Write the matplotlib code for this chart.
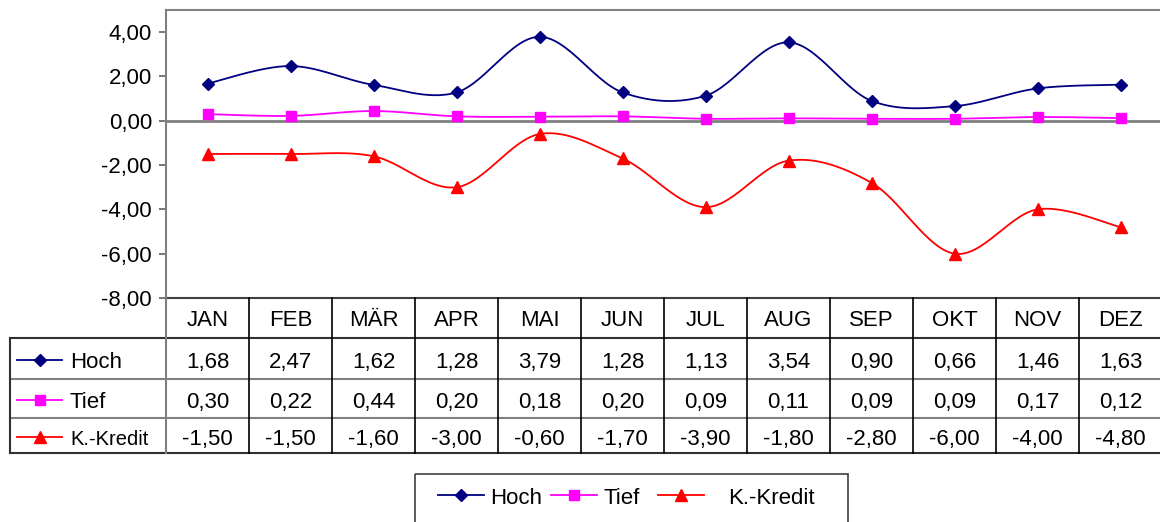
import numpy as np
import matplotlib
matplotlib.use('Agg')
import matplotlib.pyplot as plt
from matplotlib.patches import Rectangle

plt.rcParams['font.family'] = ['Liberation Sans', 'DejaVu Sans']

months = ['JAN', 'FEB', 'MÄR', 'APR', 'MAI', 'JUN', 'JUL', 'AUG', 'SEP', 'OKT', 'NOV', 'DEZ']
hoch = [1.68, 2.47, 1.62, 1.28, 3.79, 1.28, 1.13, 3.54, 0.90, 0.66, 1.46, 1.63]
tief = [0.30, 0.22, 0.44, 0.20, 0.18, 0.20, 0.09, 0.11, 0.09, 0.09, 0.17, 0.12]
kredit = [-1.50, -1.50, -1.60, -3.00, -0.60, -1.70, -3.90, -1.80, -2.80, -6.00, -4.00, -4.80]
series_names = ['Hoch', 'Tief', 'K.-Kredit']
y_ticks = [-8, -6, -4, -2, 0, 2, 4]

colors = ['#000080', '#FF00FF', '#FF0000']
markers = ['D', 's', '^']
msizes = [6.5, 7.5, 9]
series = [hoch, tief, kredit]


def fmt(v):
    return f'{v:.2f}'.replace('.', ',')


def smooth(x, y, n=30):
    P = np.column_stack([x, y]).astype(float)
    Pe = np.vstack([P[0], P, P[-1]])
    out = []
    for i in range(len(P) - 1):
        p0, p1, p2, p3 = Pe[i], Pe[i + 1], Pe[i + 2], Pe[i + 3]
        c1 = p1 + (p2 - p0) / 6
        c2 = p2 - (p3 - p1) / 6
        t = np.linspace(0, 1, n)[:, None]
        seg = (1 - t) ** 3 * p1 + 3 * (1 - t) ** 2 * t * c1 + 3 * (1 - t) * t ** 2 * c2 + t ** 3 * p2
        out.append(seg if i == 0 else seg[1:])
    S = np.vstack(out)
    return S[:, 0], S[:, 1]


W, H = 1160, 522
fig = plt.figure(figsize=(W / 100, H / 100), dpi=100)

# layout (pixels)
L, R, T, B = 166, 1162, 10, 298
colw = (R - L) / len(months)
ax = fig.add_axes([L / W, 1 - B / H, (R - L) / W, (B - T) / H])
ax.set_xlim(-0.5, len(months) - 0.5)
ax.set_ylim(-8, 5)

x = np.arange(len(months))
for vals, c, m, ms in zip(series, colors, markers, msizes):
    sx, sy = smooth(x, vals)
    ax.plot(sx, sy, color=c, lw=1.3, zorder=3, clip_on=False)
    ax.plot(x, vals, ls='none', marker=m, ms=ms, color=c, zorder=4, clip_on=False)

ax.axhline(0, color='#808080', lw=2, zorder=2)
ax.set_yticks(y_ticks)
ax.set_yticklabels([fmt(v) for v in y_ticks], fontsize=16)
ax.set_xticks([])
ax.tick_params(axis='y', direction='out', length=5, width=1.2, color='#606060', pad=5)
for s in ['left', 'top']:
    ax.spines[s].set_color('#808080')
    ax.spines[s].set_linewidth(1.5)
ax.spines['right'].set_visible(False)
ax.spines['bottom'].set_color('#404040')
ax.spines['bottom'].set_linewidth(1.5)

# overlay for the data table and legend
ov = fig.add_axes([0, 0, 1, 1], zorder=5)
ov.set_xlim(0, W)
ov.set_ylim(H, 0)
ov.axis('off')
ov.patch.set_alpha(0)

rows_y = [338, 379, 418, 453]
dark = '#303030'
gray = '#808080'
ov.plot([10, R], [rows_y[0]] * 2, color=dark, lw=1.5)
ov.plot([10, R], [rows_y[1]] * 2, color=gray, lw=1.5)
ov.plot([10, R], [rows_y[2]] * 2, color=gray, lw=1.5)
ov.plot([10, R], [rows_y[3]] * 2, color=dark, lw=1.5)
ov.plot([10, 10], [rows_y[0], rows_y[3]], color=dark, lw=1.5)
ov.plot([L, L], [B, rows_y[3]], color=gray, lw=1.5)
for i in range(1, len(months) + 1):
    xx = L + i * colw
    ov.plot([xx, xx], [B, rows_y[3]], color='black', lw=1.2)

fs = 16
dy = 3
for i, mth in enumerate(months):
    cx = L + (i + 0.5) * colw
    ov.text(cx, (B + rows_y[0]) / 2 + dy, mth, ha='center', va='center', fontsize=fs)

row_centers = [(rows_y[0] + rows_y[1]) / 2, (rows_y[1] + rows_y[2]) / 2, (rows_y[2] + rows_y[3]) / 2]
label_fs = [fs, fs, 14.5]
for r, (vals, name, c, m, ms) in enumerate(zip(series, series_names, colors, markers, msizes)):
    cy = row_centers[r] + 1
    ov.plot([17, 62], [cy, cy], color=c, lw=1.3)
    ov.plot([39.5], [cy], marker=m, ms=ms, color=c, ls='none')
    ov.text(70, cy + dy, name, ha='left', va='center', fontsize=label_fs[r])
    for i, v in enumerate(vals):
        cx = L + (i + 0.5) * colw
        ov.text(cx, cy + dy, fmt(v), ha='center', va='center', fontsize=fs)

# legend box
ov.add_patch(Rectangle((415, 474), 848 - 415, 70, fill=False, edgecolor='#404040', lw=1.2, clip_on=False))
leg_items = [(438, 490), (551, 603), (658, 728)]
ly = 495
for (hx, tx), name, c, m, ms in zip(leg_items, series_names, colors, markers, msizes):
    ov.plot([hx, hx + 46], [ly, ly], color=c, lw=1.3)
    ov.plot([hx + 23], [ly], marker=m, ms=ms, color=c, ls='none')
    ov.text(tx, ly + dy, name, ha='left', va='center', fontsize=fs)

fig.savefig('out.png', dpi=100)
